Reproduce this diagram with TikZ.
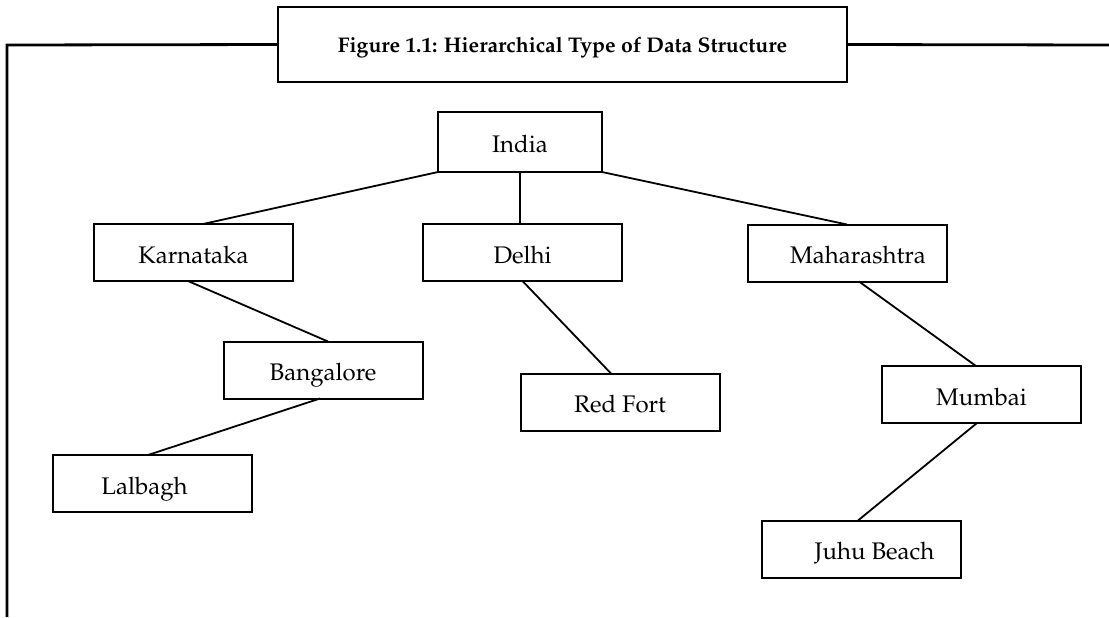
\documentclass[tikz,border=0pt]{standalone}
\usepackage[T1]{fontenc}
\usepackage{mathpazo}
\usepackage{tikz}

\begin{document}
\begin{tikzpicture}[
    x=0.5pt, y=-0.5pt,
    place/.style={draw, line width=1pt, inner sep=0pt, outer sep=0pt, minimum width=99.5pt, minimum height=28.5pt, text height=11.5pt, text depth=1pt, align=center, font=\fontsize{12}{14}\selectfont},
    caption/.style={draw, line width=1.4pt, inner sep=0pt, outer sep=0pt, minimum width=284.5pt, minimum height=37.5pt, text height=9pt, text depth=1pt, font=\fontsize{10.6}{12}\selectfont\bfseries},
    link/.style={line width=0.9pt}
]
\useasboundingbox (0,0) rectangle (1109,617);

% frame with caption
\node[caption] (title) at (562.5,44.5) {Figure 1.1: Hierarchical Type of Data Structure};
\coordinate (frametl) at (7,45);
\coordinate (framebl) at (7,617);
\coordinate (frametr) at (1109,45);
\draw[line width=1.4pt] (title.west) -- (frametl) -- (framebl);
\draw[line width=1.4pt] (title.east) -- (frametr);

% country
\node[place, minimum width=82pt, minimum height=30pt] (india) at (520,142) {India};

% states
\node[place] (kar) at (193.5,252.5) {Karnataka};
\node[place] (del) at (522.5,252.5) {Delhi};
\node[place] (mah) at (847,253)     {\hspace{11pt}Maharashtra};

% cities and places
\node[place] (ban)  at (323,370)     {Bangalore};
\node[place] (red)  at (620,402)     {Red Fort};
\node[place] (mum)  at (981.5,394.5) {Mumbai};
\node[place] (lal)  at (152.5,483.5) {Lalbagh\hspace{8pt}};
\node[place] (juhu) at (861.5,549)   {\hspace{13pt}Juhu Beach};

\draw[link] (india.south west) -- ([xshift=4.75pt]kar.north);
\draw[link] (india.south)      -- (india.south |- del.north);
\draw[link] (india.south east) -- (mah.north);
\draw[link] ([xshift=-2.75pt]kar.south) -- ([xshift=2.5pt]ban.north);
\draw[link] (del.south)        -- ([xshift=-4.5pt]red.north);
\draw[link] ([xshift=-1.5pt]ban.south) -- ([xshift=-2.25pt]lal.north);
\draw[link] ([xshift=6pt]mah.south) -- ([xshift=-2.75pt]mum.north);
\draw[link] ([xshift=-2.25pt]mum.south) -- ([xshift=-1.75pt]juhu.north);
\end{tikzpicture}
\end{document}
